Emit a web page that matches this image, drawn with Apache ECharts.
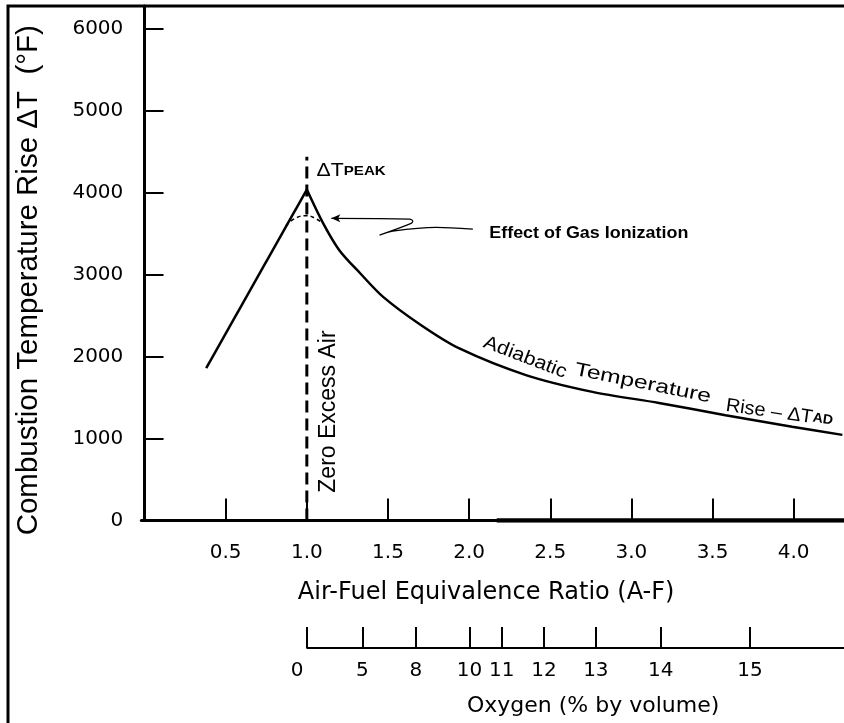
<!DOCTYPE html>
<html><head><meta charset="utf-8">
<script src="https://cdn.jsdelivr.net/npm/echarts@6/dist/echarts.min.js"></script>
<style>html,body{margin:0;padding:0;background:#fff}#c{width:844px;height:723px}</style>
</head><body><div id="c"></div>
<script>
// ---- data ----
const riseAF = [0.38, 1.00];
const riseT = [1860, 4040];
const fallAF = [1.00, 1.10, 1.20, 1.33, 1.47, 1.70, 1.94, 2.35, 2.76, 3.17, 3.58, 3.99, 4.30];
const fallT = [4040, 3630, 3300, 3015, 2730, 2390, 2100, 1775, 1570, 1435, 1285, 1145, 1045];
const ionAF = [0.87, 0.93, 1.00, 1.05, 1.10];
const ionT = [3595, 3690, 3720, 3690, 3625];
const zeroAirAF = [1.0, 1.0];
const zeroAirT = [0, 4440];
const thickBaseAF = [2.17, 4.31];
const thickBaseT = [0, 0];
const afTicks = [0.5, 1.0, 1.5, 2.0, 2.5, 3.0, 3.5, 4.0];
const tempTicks = [0, 1000, 2000, 3000, 4000, 5000, 6000];
const oxygenPct = [0, 5, 8, 10, 11, 12, 13, 14, 15];
const oxygenAtAF = [1.00, 1.34, 1.67, 2.00, 2.20, 2.46, 2.78, 3.18, 3.73];
const arrowAF = [1.151, 1.633, 1.653, 1.643, 1.448, 1.530, 1.797, 2.023];
const arrowT = [3688, 3679, 3655, 3627, 3484, 3532, 3578, 3557];
// annotation anchors (data coords)
const peakLabelAt = [1.06, 4265];
const zeroAirLabelAt = [1.134, 1330];
const ionLabelAt = [2.124, 3496];
const adiabaticWords = ['Adiabatic', 'Temperature', '{a|Rise – ΔT}{b|AD}'];
const adiabaticAt = [[2.345, 1990], [3.07, 1672], [3.912, 1310]];
const adiabaticAngle = [21, 11.5, 8];
const adiabaticScale = [1.12, 1.3, 1.05];

const X0 = -0.02, X1 = 4.31, Y1 = 6280;
const F = 'Liberation Sans, Arial, Helvetica, sans-serif';
const W = 'DejaVu Sans, sans-serif';
const pairs = (xs, ys) => xs.map((x, i) => [x, ys[i]]);
const nearestIdx = (arr, v) => { let b = 0; arr.forEach((a, i) => { if (Math.abs(a - v) < Math.abs(arr[b] - v)) b = i; }); return b; };

const chart = echarts.init(document.getElementById('c'));
chart.setOption({
  animation: false,
  backgroundColor: '#fff',
  grid: [
    { left: 141.3, right: 0, top: 6, bottom: 202.5, containLabel: false, outerBoundsMode: 'none' },
    { left: 307.2, right: 0, top: 600, bottom: 75, containLabel: false, outerBoundsMode: 'none' }
  ],
  xAxis: [
    {
      type: 'value', gridIndex: 0, min: X0, max: X1,
      axisLine: { lineStyle: { color: '#000', width: 3 } },
      axisTick: { inside: true, length: 22, customValues: afTicks, lineStyle: { color: '#000', width: 2 } },
      axisLabel: { customValues: afTicks, formatter: v => v.toFixed(1), color: '#000', fontSize: 20, fontFamily: W, margin: 22 },
      splitLine: { show: false },
      name: 'Air-Fuel Equivalence Ratio (A-F)', nameLocation: 'middle', nameGap: 60,
      nameTextStyle: { color: '#000', fontSize: 24, fontFamily: W, padding: [0, 13, 0, 0] }
    },
    {
      type: 'value', gridIndex: 1, min: 1.0, max: X1, position: 'bottom',
      axisLine: { lineStyle: { color: '#000', width: 2 } },
      axisTick: { inside: true, length: 21, customValues: oxygenAtAF, lineStyle: { color: '#000', width: 2 } },
      axisLabel: {
        customValues: oxygenAtAF, color: '#000', fontSize: 20, fontFamily: W, margin: 13,
        formatter: v => { const i = nearestIdx(oxygenAtAF, v); return i === 0 ? '{z|' + oxygenPct[i] + '}' : String(oxygenPct[i]); },
        rich: { z: { padding: [0, 20, 0, 0], fontSize: 20, fontFamily: W, color: '#000' } }
      },
      splitLine: { show: false },
      name: 'Oxygen (% by volume)', nameLocation: 'middle', nameGap: 47,
      nameTextStyle: { color: '#000', fontSize: 22, fontFamily: W, padding: [0, 0, 0, 35] }
    }
  ],
  yAxis: [
    {
      type: 'value', gridIndex: 0, min: 0, max: Y1,
      axisLine: { show: true, lineStyle: { color: '#000', width: 3 } },
      axisTick: { show: true, inside: true, length: 19, customValues: tempTicks.slice(1), lineStyle: { color: '#000', width: 2 } },
      axisLabel: { customValues: tempTicks, formatter: v => String(v), color: '#000', fontSize: 20, fontFamily: W, margin: 18 },
      splitLine: { show: false },
      name: 'Combustion Temperature Rise ΔT  (°F)', nameLocation: 'middle', nameGap: 97,
      nameTextStyle: { color: '#000', fontSize: 29.5, fontFamily: F, padding: [0, 34, 0, 0] }
    },
    { type: 'value', gridIndex: 1, show: false, min: 0, max: 1 }
  ],
  series: [
    { name: 'rise', type: 'line', xAxisIndex: 0, yAxisIndex: 0, data: pairs(riseAF, riseT), symbol: 'none', lineStyle: { color: '#000', width: 2.5 } },
    { name: 'adiabatic', type: 'line', xAxisIndex: 0, yAxisIndex: 0, data: pairs(fallAF, fallT), symbol: 'none', smooth: 0.3, lineStyle: { color: '#000', width: 2.5 } },
    { name: 'ionization', type: 'line', xAxisIndex: 0, yAxisIndex: 0, data: pairs(ionAF, ionT), symbol: 'none', smooth: true, lineStyle: { color: '#000', width: 1.5, type: [4, 3] } },
    { name: 'zero excess air', type: 'line', xAxisIndex: 0, yAxisIndex: 0, data: pairs(zeroAirAF, zeroAirT), symbol: 'none', lineStyle: { color: '#000', width: 3, type: [12, 6] } },
    { name: 'thick base', type: 'line', xAxisIndex: 0, yAxisIndex: 0, data: pairs(thickBaseAF, thickBaseT), symbol: 'none', lineStyle: { color: '#000', width: 4.5 } },
    {
      name: 'arrow', type: 'line', xAxisIndex: 0, yAxisIndex: 0, symbol: 'none', smooth: 0.3,
      data: pairs(arrowAF, arrowT).map((p, i) => i === 0 ? { value: p, symbol: 'arrow', symbolSize: [6, 9], symbolRotate: 90, itemStyle: { color: '#000' } } : { value: p }),
      lineStyle: { color: '#000', width: 1.2 }
    }
  ]
});

const px = p => chart.convertToPixel({ gridIndex: 0 }, p);
const g = [];
g.push({ type: 'rect', shape: { x: 8, y: 6, width: 900, height: 800 }, style: { fill: 'none', stroke: '#000', lineWidth: 3 }, z: 100 });
let p = px(peakLabelAt);
g.push({ type: 'text', x: p[0], y: p[1], scaleX: 1.12, style: { text: '{a|ΔT}{b|PEAK}', align: 'left', verticalAlign: 'middle', fill: '#000',
  rich: { a: { fontSize: 19, fontFamily: F, fill: '#000' }, b: { fontSize: 13.5, fontWeight: 'bold', fontFamily: F, fill: '#000' } } } });
p = px(zeroAirLabelAt);
g.push({ type: 'text', x: p[0], y: p[1], rotation: Math.PI / 2, style: { text: 'Zero Excess Air', align: 'center', verticalAlign: 'middle', fill: '#000', fontSize: 23, fontFamily: F } });
p = px(ionLabelAt);
g.push({ type: 'text', x: p[0], y: p[1], scaleX: 1.12, style: { text: 'Effect of Gas Ionization', align: 'left', verticalAlign: 'middle', fill: '#000', fontSize: 16, fontWeight: 'bold', fontFamily: F } });
adiabaticWords.forEach((w, i) => {
  const q = px(adiabaticAt[i]);
  g.push({ type: 'text', x: q[0], y: q[1], rotation: -adiabaticAngle[i] * Math.PI / 180, scaleX: adiabaticScale[i],
    style: { text: w, align: 'center', verticalAlign: 'middle', fill: '#000', fontSize: 19, fontFamily: F,
      rich: { a: { fontSize: 19, fontFamily: F, fill: '#000' }, b: { fontSize: 13.5, fontWeight: 'bold', fontFamily: F, fill: '#000' } } } });
});
chart.setOption({ graphic: g });
</script></body></html>
